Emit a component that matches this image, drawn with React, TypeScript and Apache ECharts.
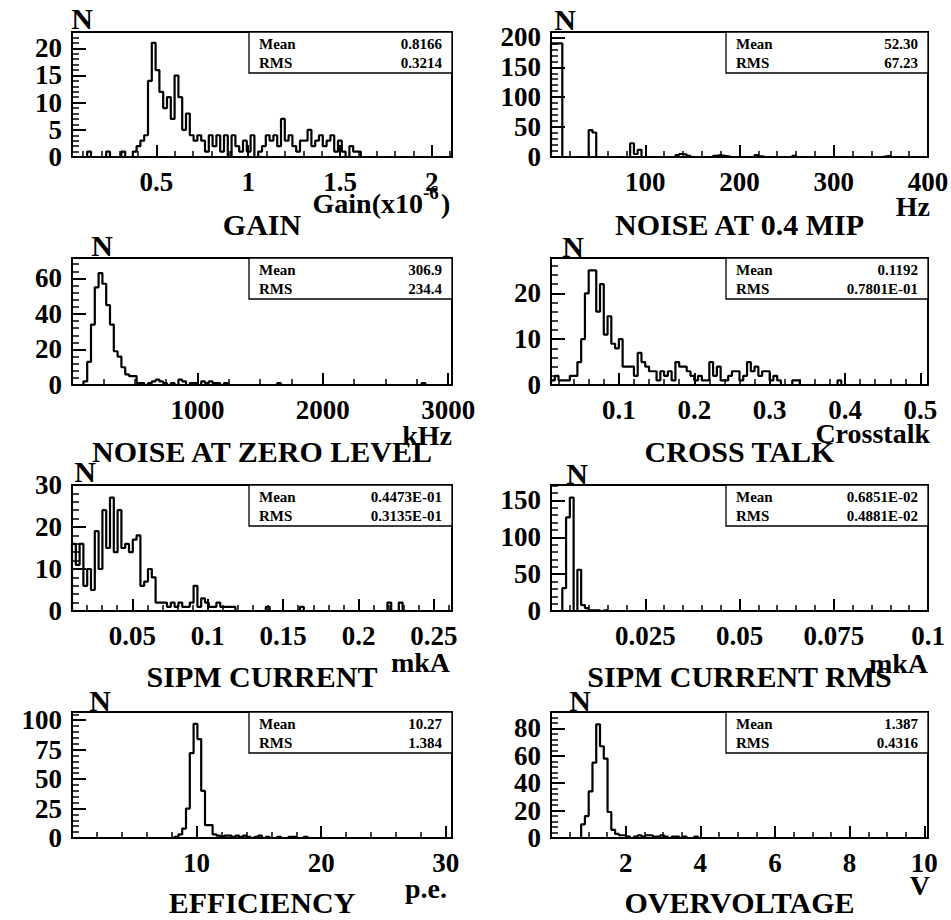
import React, { useEffect, useRef } from "react";
import * as echarts from "echarts";

const FONT = "Liberation Serif, Times New Roman, Times, serif";

// ---------------- data (100 bins per histogram) ----------------
const gainCounts = [
  0, 0, 0, 0, 1, 0, 0, 0, 0, 1,
  0, 0, 0, 1, 0, 0, 1, 2, 3, 4,
  14, 21, 16, 12, 9, 11, 7, 15, 11, 5,
  8, 4, 3, 4, 3, 1, 4, 2, 4, 1,
  4, 0, 4, 2, 1, 3, 1, 4, 0, 1,
  2, 4, 3, 4, 2, 7, 3, 4, 2, 1,
  3, 3, 5, 2, 3, 4, 2, 3, 4, 1,
  3, 1, 0, 2, 1, 1, 0, 0, 0, 0,
  0, 0, 0, 0, 0, 0, 0, 0, 0, 0,
  0, 0, 0, 0, 0, 0, 0, 0, 0, 0,
];
const noise04Counts = [
  190, 190, 190, 0, 0, 0, 0, 0, 0, 0,
  45, 41, 0, 0, 0, 0, 0, 0, 0, 0,
  0, 23, 5, 12, 0, 0, 0, 0, 0, 0,
  0, 0, 0, 3, 5, 4, 2, 0, 0, 0,
  0, 0, 0, 2, 3, 2, 1, 0, 0, 0,
  0, 0, 0, 0, 3, 1, 0, 0, 0, 0,
  0, 0, 0, 0, 2, 0, 0, 0, 0, 0,
  0, 0, 0, 0, 0, 0, 0, 0, 0, 0,
  0, 0, 0, 0, 0, 0, 0, 0, 1, 2,
  0, 0, 0, 0, 0, 0, 0, 0, 0, 0,
];
const noiseZeroCounts = [
  0, 0, 0, 2, 13, 34, 55, 63, 57, 45,
  34, 19, 16, 10, 6, 5, 5, 1, 1, 0,
  1, 2, 3, 2, 1, 0, 1, 0, 3, 2,
  0, 1, 1, 0, 2, 1, 2, 1, 1, 0,
  1, 0, 0, 0, 0, 0, 0, 0, 0, 0,
  0, 0, 0, 0, 1, 0, 0, 0, 0, 0,
  0, 0, 0, 0, 0, 0, 0, 0, 0, 0,
  0, 0, 0, 0, 0, 0, 0, 0, 0, 0,
  0, 0, 0, 0, 0, 0, 0, 0, 0, 0,
  0, 0, 1, 0, 0, 0, 0, 0, 0, 0,
];
const crosstalkCounts = [
  1, 2, 1, 1, 1, 2, 2, 5, 10, 20,
  25, 25, 16, 22, 11, 15, 9, 8, 10, 4,
  4, 4, 2, 7, 5, 4, 3, 3, 1, 3,
  2, 3, 1, 5, 4, 4, 3, 2, 1, 2,
  1, 1, 5, 2, 4, 1, 1, 2, 3, 3,
  1, 2, 5, 3, 4, 2, 3, 3, 1, 2,
  1, 0, 0, 0, 1, 1, 0, 0, 0, 0,
  0, 0, 0, 0, 0, 0, 1, 0, 0, 0,
  0, 0, 0, 0, 0, 0, 0, 0, 0, 0,
  0, 0, 0, 0, 0, 0, 0, 0, 0, 0,
];
const currentCounts = [
  16, 11, 16, 6, 10, 5, 19, 10, 24, 15,
  27, 14, 24, 15, 16, 14, 17, 18, 6, 7,
  10, 8, 2, 2, 2, 1, 2, 1, 2, 1,
  1, 2, 6, 1, 3, 2, 1, 1, 2, 1,
  1, 1, 1, 0, 0, 0, 0, 0, 0, 0,
  0, 1, 0, 0, 0, 0, 0, 0, 0, 0,
  1, 0, 0, 0, 0, 0, 0, 0, 0, 0,
  0, 0, 0, 0, 0, 0, 0, 0, 0, 0,
  0, 0, 0, 2, 0, 0, 2, 0, 0, 0,
  0, 0, 0, 0, 0, 0, 0, 0, 0, 0,
];
const currentRmsCounts = [
  0, 0, 0, 31, 127, 154, 0, 56, 8, 4,
  1, 1, 1, 0, 1, 0, 0, 0, 0, 0,
  0, 0, 0, 0, 0, 0, 0, 0, 0, 0,
  0, 0, 0, 0, 0, 0, 0, 0, 0, 0,
  0, 0, 0, 0, 0, 0, 0, 0, 0, 0,
  0, 0, 0, 0, 0, 0, 0, 0, 0, 0,
  0, 0, 0, 0, 0, 0, 0, 0, 0, 0,
  0, 0, 0, 0, 0, 0, 0, 0, 0, 0,
  0, 0, 0, 0, 0, 0, 0, 0, 0, 0,
  0, 0, 0, 0, 0, 0, 0, 0, 0, 0,
];
const efficiencyCounts = [
  0, 0, 0, 0, 0, 0, 0, 0, 0, 0,
  0, 0, 0, 0, 0, 0, 0, 0, 0, 0,
  0, 0, 0, 0, 0, 0, 0, 1, 3, 8,
  25, 72, 97, 84, 40, 11, 11, 3, 2, 1,
  2, 2, 1, 2, 1, 2, 1, 0, 1, 2,
  0, 1, 0, 0, 1, 0, 0, 1, 1, 0,
  0, 1, 0, 0, 0, 0, 0, 0, 0, 0,
  0, 0, 0, 0, 0, 0, 0, 0, 0, 0,
  0, 0, 0, 0, 0, 0, 0, 0, 0, 0,
  0, 0, 0, 0, 0, 0, 0, 0, 0, 0,
];
const overvoltageCounts = [
  0, 0, 0, 0, 0, 0, 0, 0, 10, 16,
  34, 55, 83, 67, 58, 19, 6, 3, 2, 2,
  1, 0, 1, 2, 1, 2, 2, 1, 1, 2,
  1, 0, 1, 1, 0, 1, 0, 0, 1, 0,
  0, 0, 0, 0, 0, 0, 0, 0, 0, 0,
  0, 0, 0, 0, 0, 0, 0, 0, 0, 0,
  0, 0, 0, 0, 0, 0, 0, 0, 0, 0,
  0, 0, 0, 0, 0, 0, 0, 0, 0, 0,
  0, 0, 0, 0, 0, 0, 0, 0, 0, 0,
  0, 0, 0, 0, 0, 0, 0, 0, 0, 0,
];

const histCounts = [
  gainCounts, noise04Counts, noiseZeroCounts, crosstalkCounts,
  currentCounts, currentRmsCounts, efficiencyCounts, overvoltageCounts,
];
const histRanges: [number, number][] = [
  [0.04, 2.11], [0, 400], [0, 3030], [0.01, 0.51],
  [0.01, 0.262], [0, 0.1], [0, 30.5], [0, 10.1],
];
const yMaxes = [23, 209, 71.5, 27.7, 30, 171, 107, 92];
const xLabelSteps = [0.5, 100, 1000, 0.1, 0.05, 0.025, 10, 2];
const yLabelSteps = [5, 50, 20, 10, 10, 50, 25, 20];
const titles = [
  "GAIN", "NOISE AT 0.4 MIP", "NOISE AT ZERO LEVEL", "CROSS TALK",
  "SIPM CURRENT", "SIPM CURRENT RMS", "EFFICIENCY", "OVERVOLTAGE",
];
const xUnits = ["Gain(x10", "Hz", "kHz", "Crosstalk", "mkA", "mkA", "p.e.", "V"];
const meanValues = ["0.8166", "52.30", "306.9", "0.1192", "0.4473E-01", "0.6851E-02", "10.27", "1.387"];
const rmsValues = ["0.3214", "67.23", "234.4", "0.7801E-01", "0.3135E-01", "0.4881E-02", "1.384", "0.4316"];

// ---------------- layout ----------------
const FRAME_LEFT = [72, 551];
const FRAME_WIDTH = [380, 377];
const FRAME_TOP = [32, 258, 485, 712];
const FRAME_HEIGHT = [125, 127, 126, 126];
const X_SPLIT = [4, 4, 3, 5, 5, 4, 3, 5];
const X_MINOR = [5, 5, 4, 5, 5, 5, 5, 4];
const N_OFFSET: [number, number][] = [
  [10, -14], [14, -13], [30, -13], [22, -12],
  [13, -14], [26, -12], [28, -12], [29, -12],
];
const UNIT_POS: [number, number][] = [
  [453, 203], [930, 206], [452, 435], [930, 433],
  [450, 662], [928, 663], [447, 888], [930, 885],
];
const TITLE_Y = [224, 451, 676, 902];

function frameOf(i: number) {
  const col = i % 2;
  const row = Math.floor(i / 2);
  return { left: FRAME_LEFT[col], top: FRAME_TOP[row], width: FRAME_WIDTH[col], height: FRAME_HEIGHT[row] };
}

function histPoints(counts: number[], lo: number, hi: number) {
  const w = (hi - lo) / counts.length;
  const pts: number[][] = [[lo, 0]];
  counts.forEach((c, i) => {
    const a = lo + i * w;
    pts.push([a, c], [a + w, c]);
  });
  pts.push([hi, 0]);
  return pts;
}

function fmt(v: number) {
  return String(parseFloat(v.toPrecision(10)));
}

function labelFormatter(step: number, hideZero: boolean) {
  return (v: number) => {
    const k = v / step;
    if (Math.abs(k - Math.round(k)) > 1e-6) return "";
    if (hideZero && Math.abs(v) < 1e-12) return "";
    return fmt(v);
  };
}

function txt(text: string, x: number, y: number, size: number, align = "left", z = 6) {
  return {
    type: "text",
    x,
    y,
    z,
    silent: true,
    style: {
      text,
      fill: "#000",
      font: `bold ${size}px ${FONT}`,
      textAlign: align,
      align,
      textVerticalAlign: "middle",
      verticalAlign: "middle",
    },
  };
}

function buildOption() {
  const grids: any[] = [];
  const xAxes: any[] = [];
  const yAxes: any[] = [];
  const series: any[] = [];
  const graphics: any[] = [];

  for (let i = 0; i < 8; i++) {
    const f = frameOf(i);
    const [lo, hi] = histRanges[i];
    const xs = xLabelSteps[i];
    const aligned = Math.abs(lo / xs - Math.round(lo / xs)) < 1e-9;

    grids.push({
      left: f.left,
      top: f.top,
      width: f.width,
      height: f.height,
      show: true,
      borderColor: "#000",
      borderWidth: 2,
      backgroundColor: "transparent",
      containLabel: false,
      outerBoundsMode: "none",
    });

    xAxes.push({
      type: "value",
      gridIndex: i,
      min: lo,
      max: hi,
      ...(aligned ? { interval: xs } : { splitNumber: X_SPLIT[i] }),
      axisLine: { show: true, onZero: false, lineStyle: { color: "#000", width: 2 } },
      axisTick: { show: true, inside: true, length: 12, lineStyle: { color: "#000", width: 2 } },
      minorTick: { show: true, splitNumber: X_MINOR[i], length: 6, lineStyle: { color: "#000", width: 1.5 } },
      splitLine: { show: false },
      minorSplitLine: { show: false },
      axisLabel: {
        show: true,
        margin: 11,
        color: "#000",
        fontFamily: FONT,
        fontWeight: "bold",
        fontSize: 27,
        hideOverlap: false,
        formatter: labelFormatter(xs, true),
      },
    });

    yAxes.push({
      type: "value",
      gridIndex: i,
      min: 0,
      max: yMaxes[i],
      interval: yLabelSteps[i],
      axisLine: { show: true, onZero: false, lineStyle: { color: "#000", width: 2 } },
      axisTick: { show: true, inside: true, length: 14, lineStyle: { color: "#000", width: 2 } },
      minorTick: { show: true, splitNumber: 5, length: 7, lineStyle: { color: "#000", width: 1.5 } },
      splitLine: { show: false },
      minorSplitLine: { show: false },
      axisLabel: {
        show: true,
        margin: 10,
        color: "#000",
        fontFamily: FONT,
        fontWeight: "bold",
        fontSize: 27,
        hideOverlap: false,
        formatter: labelFormatter(yLabelSteps[i], false),
      },
    });

    series.push({
      type: "line",
      xAxisIndex: i,
      yAxisIndex: i,
      data: histPoints(histCounts[i], lo, hi),
      symbol: "none",
      showSymbol: false,
      silent: true,
      z: 3,
      lineStyle: { color: "#000", width: 2.2 },
    });

    // stats box
    const boxW = Math.round(f.width * 0.535);
    const boxL = f.left + f.width - boxW;
    graphics.push({
      type: "rect",
      z: 5,
      silent: true,
      shape: { x: boxL, y: f.top, width: boxW, height: 41 },
      style: { fill: "#fff", stroke: "#000", lineWidth: 1.3 },
    });
    graphics.push(txt("Mean", boxL + 10, f.top + 12, 15, "left"));
    graphics.push(txt(meanValues[i], f.left + f.width - 10, f.top + 12, 15, "right"));
    graphics.push(txt("RMS", boxL + 10, f.top + 31, 15, "left"));
    graphics.push(txt(rmsValues[i], f.left + f.width - 10, f.top + 31, 15, "right"));

    // y axis title "N"
    graphics.push(txt("N", f.left + N_OFFSET[i][0], f.top + N_OFFSET[i][1], 30, "center"));

    // panel title
    graphics.push(txt(titles[i], f.left + f.width / 2, TITLE_Y[Math.floor(i / 2)], 30, "center"));

    // x axis unit
    const [ux, uy] = UNIT_POS[i];
    if (i === 0) {
      graphics.push(txt(xUnits[i], ux - 30, uy, 28, "right"));
      graphics.push(txt("-6", ux - 30, uy - 11, 19, "left"));
      graphics.push(txt(")", ux - 12, uy, 28, "left"));
    } else {
      graphics.push(txt(xUnits[i], ux, uy, 28, "right"));
    }
  }

  return {
    animation: false,
    backgroundColor: "#fff",
    grid: grids,
    xAxis: xAxes,
    yAxis: yAxes,
    series,
    graphic: { elements: graphics },
  };
}

export default function App() {
  const ref = useRef<HTMLDivElement>(null);
  useEffect(() => {
    document.body.style.margin = "0";
    if (!ref.current) return;
    const chart = echarts.init(ref.current, undefined, { renderer: "svg" });
    chart.setOption(buildOption() as any);
    return () => chart.dispose();
  }, []);
  return <div ref={ref} style={{ width: 951, height: 920, background: "#fff" }} />;
}
